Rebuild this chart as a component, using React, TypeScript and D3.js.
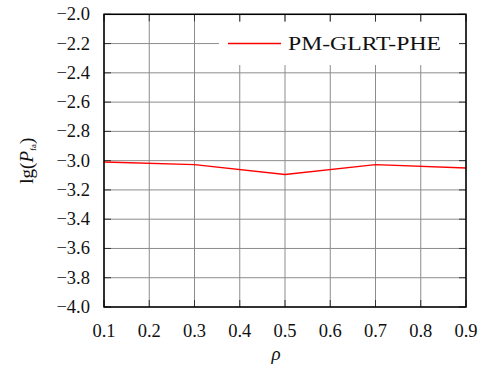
import React from "react";
import * as d3 from "d3";

const rho = [0.1, 0.3, 0.5, 0.7, 0.9];
const lgPfa = [-3.009, -3.027, -3.095, -3.027, -3.05];
const xTicks = [0.1, 0.2, 0.3, 0.4, 0.5, 0.6, 0.7, 0.8, 0.9];
const yTicks = [-4.0, -3.8, -3.6, -3.4, -3.2, -3.0, -2.8, -2.6, -2.4, -2.2, -2.0];
const seriesName = "PM-GLRT-PHE";

const W = 483;
const H = 369;
const FONT = '"Liberation Serif", "Times New Roman", Times, "DejaVu Serif", serif';

export default function App() {
  const left = 104, right = 466, top = 14.3, bottom = 307;
  const x = d3.scaleLinear().domain([0.1, 0.9]).range([left, right]);
  const y = d3.scaleLinear().domain([-4, -2]).range([bottom, top]);
  const line = d3
    .line<number>()
    .x((_, i) => x(rho[i]))
    .y((d) => y(d));
  const fmt = (v: number) => (v < 0 ? "\u2212" : "") + Math.abs(v).toFixed(1);
  const tick = 7;
  const grid = "#8c8c8c";
  const ts = { fontFamily: FONT };

  const legend = { x0: 219, x1: 459, y0: 22, y1: 65 };
  const legY = y(-2.2);

  return (
    <svg
      width={W}
      height={H}
      style={{ position: "absolute", left: 0, top: 0, background: "#fff", fontFamily: FONT }}
    >
      <rect x={0} y={0} width={W} height={H} fill="#fff" />
      {/* grid */}
      {xTicks.map((t) => (
        <line key={"gx" + t} x1={x(t)} x2={x(t)} y1={top} y2={bottom} stroke={grid} strokeWidth={1} />
      ))}
      {yTicks.map((t) => (
        <line key={"gy" + t} x1={left} x2={right} y1={y(t)} y2={y(t)} stroke={grid} strokeWidth={1} />
      ))}
      {/* ticks inward on all sides */}
      {xTicks.map((t) => (
        <g key={"tx" + t}>
          <line x1={x(t)} x2={x(t)} y1={bottom} y2={bottom - tick} stroke="#333" strokeWidth={1} />
          <line x1={x(t)} x2={x(t)} y1={top} y2={top + tick} stroke="#333" strokeWidth={1} />
        </g>
      ))}
      {yTicks.map((t) => (
        <g key={"ty" + t}>
          <line x1={left} x2={left + tick} y1={y(t)} y2={y(t)} stroke="#333" strokeWidth={1} />
          <line x1={right} x2={right - tick} y1={y(t)} y2={y(t)} stroke="#333" strokeWidth={1} />
        </g>
      ))}
      {/* data line */}
      <path d={line(lgPfa) || ""} fill="none" stroke="#ff0000" strokeWidth={1.4} />
      {/* legend */}
      <rect x={legend.x0} y={legend.y0} width={legend.x1 - legend.x0} height={legend.y1 - legend.y0} fill="#fff" />
      <line x1={228} x2={281} y1={legY} y2={legY} stroke="#ff0000" strokeWidth={1.4} />
      <text style={ts} x={288} y={legY + 6.5} fontSize={19} fill="#111" textLength={153} lengthAdjust="spacingAndGlyphs">
        {seriesName}
      </text>
      {/* frame */}
      <rect x={left} y={top} width={right - left} height={bottom - top} fill="none" stroke="#000" strokeWidth={1.5} />
      {/* tick labels */}
      {xTicks.map((t) => (
        <text style={ts} key={"lx" + t} x={x(t)} y={336.5} fontSize={18.5} textAnchor="middle" fill="#111">
          {t.toFixed(1)}
        </text>
      ))}
      {yTicks.map((t) => (
        <text style={ts} key={"ly" + t} x={90} y={y(t) + 6} fontSize={18.5} textAnchor="end" fill="#111">
          {fmt(t)}
        </text>
      ))}
      {/* axis labels */}
      <text style={ts} x={276} y={360} fontSize={19} fontStyle="italic" textAnchor="middle" fill="#111">
        ρ
      </text>
      <text
        style={ts}
        transform={`translate(33, ${(top + bottom) / 2}) rotate(-90)`}
        fontSize={19}
        textAnchor="middle"
        fill="#111"
      >
        lg(<tspan fontStyle="italic">P</tspan>
        <tspan fontSize={9} dy={3}>fa</tspan>
        <tspan dy={-3}>)</tspan>
      </text>
    </svg>
  );
}
